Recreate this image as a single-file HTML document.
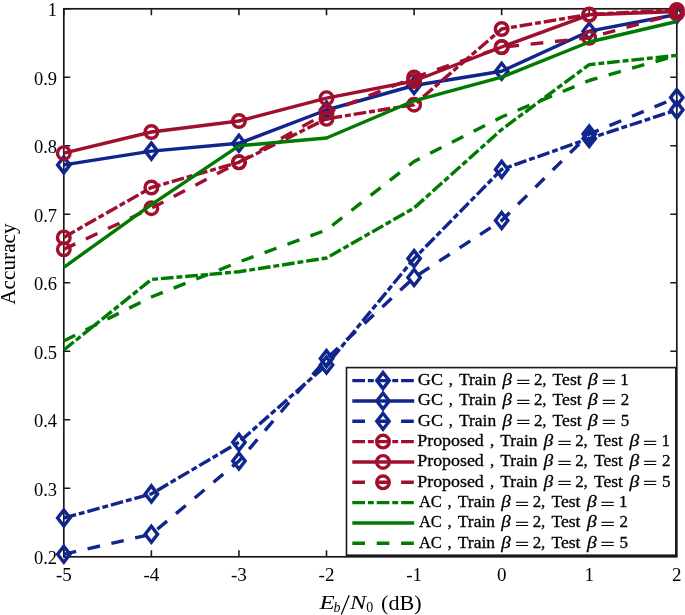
<!DOCTYPE html><html><head><meta charset="utf-8"><style>html,body{margin:0;padding:0;background:#fff;width:685px;height:615px;overflow:hidden}svg{display:block;will-change:transform}text{font-family:"Liberation Serif",serif;fill:#000}.lg{stroke:#000;stroke-width:0.3}</style></head><body>
<svg width="685" height="615" viewBox="0 0 685 615">
<path d="M63.80 8.80v6.5M63.80 556.80v-6.5M151.37 8.80v6.5M151.37 556.80v-6.5M238.94 8.80v6.5M238.94 556.80v-6.5M326.51 8.80v6.5M326.51 556.80v-6.5M414.09 8.80v6.5M501.66 8.80v6.5M589.23 8.80v6.5M676.80 8.80v6.5M63.80 556.80h6.5M63.80 488.30h6.5M63.80 419.80h6.5M63.80 351.30h6.5M676.80 351.30h-6.5M63.80 282.80h6.5M676.80 282.80h-6.5M63.80 214.30h6.5M676.80 214.30h-6.5M63.80 145.80h6.5M676.80 145.80h-6.5M63.80 77.30h6.5M676.80 77.30h-6.5M63.80 8.80h6.5M676.80 8.80h-6.5" stroke="#1a1a1a" stroke-width="1.6" fill="none"/>
<rect x="63.80" y="8.80" width="613.00" height="548.00" fill="none" stroke="#1a1a1a" stroke-width="1.7"/>
<polyline points="63.80,518.00 151.37,493.90 238.94,442.20 326.51,365.00 414.09,258.60 501.66,169.40 589.23,138.50 676.80,109.90" fill="none" stroke="#10268c" stroke-width="3.4" stroke-linejoin="round" stroke-dasharray="12.7 2.9 5.9 2.9"/>
<path d="M63.80 510.00L70.00 518.00L63.80 526.00L57.60 518.00Z" fill="none" stroke="#10268c" stroke-width="3.4" stroke-miterlimit="10"/>
<path d="M151.37 485.90L157.57 493.90L151.37 501.90L145.17 493.90Z" fill="none" stroke="#10268c" stroke-width="3.4" stroke-miterlimit="10"/>
<path d="M238.94 434.20L245.14 442.20L238.94 450.20L232.74 442.20Z" fill="none" stroke="#10268c" stroke-width="3.4" stroke-miterlimit="10"/>
<path d="M326.51 357.00L332.71 365.00L326.51 373.00L320.31 365.00Z" fill="none" stroke="#10268c" stroke-width="3.4" stroke-miterlimit="10"/>
<path d="M414.09 250.60L420.29 258.60L414.09 266.60L407.89 258.60Z" fill="none" stroke="#10268c" stroke-width="3.4" stroke-miterlimit="10"/>
<path d="M501.66 161.40L507.86 169.40L501.66 177.40L495.46 169.40Z" fill="none" stroke="#10268c" stroke-width="3.4" stroke-miterlimit="10"/>
<path d="M589.23 130.50L595.43 138.50L589.23 146.50L583.03 138.50Z" fill="none" stroke="#10268c" stroke-width="3.4" stroke-miterlimit="10"/>
<path d="M676.80 101.90L683.00 109.90L676.80 117.90L670.60 109.90Z" fill="none" stroke="#10268c" stroke-width="3.4" stroke-miterlimit="10"/>
<polyline points="63.80,164.90 151.37,151.10 238.94,143.30 326.51,110.00 414.09,85.50 501.66,71.20 589.23,31.20 676.80,14.50" fill="none" stroke="#10268c" stroke-width="3.4" stroke-linejoin="round"/>
<path d="M63.80 156.90L70.00 164.90L63.80 172.90L57.60 164.90Z" fill="none" stroke="#10268c" stroke-width="3.4" stroke-miterlimit="10"/>
<path d="M151.37 143.10L157.57 151.10L151.37 159.10L145.17 151.10Z" fill="none" stroke="#10268c" stroke-width="3.4" stroke-miterlimit="10"/>
<path d="M238.94 135.30L245.14 143.30L238.94 151.30L232.74 143.30Z" fill="none" stroke="#10268c" stroke-width="3.4" stroke-miterlimit="10"/>
<path d="M326.51 102.00L332.71 110.00L326.51 118.00L320.31 110.00Z" fill="none" stroke="#10268c" stroke-width="3.4" stroke-miterlimit="10"/>
<path d="M414.09 77.50L420.29 85.50L414.09 93.50L407.89 85.50Z" fill="none" stroke="#10268c" stroke-width="3.4" stroke-miterlimit="10"/>
<path d="M501.66 63.20L507.86 71.20L501.66 79.20L495.46 71.20Z" fill="none" stroke="#10268c" stroke-width="3.4" stroke-miterlimit="10"/>
<path d="M589.23 23.20L595.43 31.20L589.23 39.20L583.03 31.20Z" fill="none" stroke="#10268c" stroke-width="3.4" stroke-miterlimit="10"/>
<path d="M676.80 6.50L683.00 14.50L676.80 22.50L670.60 14.50Z" fill="none" stroke="#10268c" stroke-width="3.4" stroke-miterlimit="10"/>
<polyline points="63.80,554.30 151.37,534.20 238.94,461.00 326.51,358.60 414.09,277.50 501.66,220.50 589.23,134.00 676.80,97.60" fill="none" stroke="#10268c" stroke-width="3.4" stroke-linejoin="round" stroke-dasharray="12.7 11.7"/>
<path d="M63.80 546.30L70.00 554.30L63.80 562.30L57.60 554.30Z" fill="none" stroke="#10268c" stroke-width="3.4" stroke-miterlimit="10"/>
<path d="M151.37 526.20L157.57 534.20L151.37 542.20L145.17 534.20Z" fill="none" stroke="#10268c" stroke-width="3.4" stroke-miterlimit="10"/>
<path d="M238.94 453.00L245.14 461.00L238.94 469.00L232.74 461.00Z" fill="none" stroke="#10268c" stroke-width="3.4" stroke-miterlimit="10"/>
<path d="M326.51 350.60L332.71 358.60L326.51 366.60L320.31 358.60Z" fill="none" stroke="#10268c" stroke-width="3.4" stroke-miterlimit="10"/>
<path d="M414.09 269.50L420.29 277.50L414.09 285.50L407.89 277.50Z" fill="none" stroke="#10268c" stroke-width="3.4" stroke-miterlimit="10"/>
<path d="M501.66 212.50L507.86 220.50L501.66 228.50L495.46 220.50Z" fill="none" stroke="#10268c" stroke-width="3.4" stroke-miterlimit="10"/>
<path d="M589.23 126.00L595.43 134.00L589.23 142.00L583.03 134.00Z" fill="none" stroke="#10268c" stroke-width="3.4" stroke-miterlimit="10"/>
<path d="M676.80 89.60L683.00 97.60L676.80 105.60L670.60 97.60Z" fill="none" stroke="#10268c" stroke-width="3.4" stroke-miterlimit="10"/>
<polyline points="63.80,237.40 151.37,187.50 238.94,162.30 326.51,118.80 414.09,104.70 501.66,29.00 589.23,14.40 676.80,10.00" fill="none" stroke="#a00f2d" stroke-width="3.4" stroke-linejoin="round" stroke-dasharray="12.7 2.9 5.9 2.9"/>
<circle cx="63.80" cy="237.40" r="6.3" fill="none" stroke="#a00f2d" stroke-width="3.4"/>
<circle cx="151.37" cy="187.50" r="6.3" fill="none" stroke="#a00f2d" stroke-width="3.4"/>
<circle cx="238.94" cy="162.30" r="6.3" fill="none" stroke="#a00f2d" stroke-width="3.4"/>
<circle cx="326.51" cy="118.80" r="6.3" fill="none" stroke="#a00f2d" stroke-width="3.4"/>
<circle cx="414.09" cy="104.70" r="6.3" fill="none" stroke="#a00f2d" stroke-width="3.4"/>
<circle cx="501.66" cy="29.00" r="6.3" fill="none" stroke="#a00f2d" stroke-width="3.4"/>
<circle cx="589.23" cy="14.40" r="6.3" fill="none" stroke="#a00f2d" stroke-width="3.4"/>
<circle cx="676.80" cy="10.00" r="6.3" fill="none" stroke="#a00f2d" stroke-width="3.4"/>
<polyline points="63.80,153.20 151.37,132.00 238.94,121.00 326.51,98.20 414.09,81.00 501.66,47.00 589.23,14.80 676.80,11.50" fill="none" stroke="#a00f2d" stroke-width="3.4" stroke-linejoin="round"/>
<circle cx="63.80" cy="153.20" r="6.3" fill="none" stroke="#a00f2d" stroke-width="3.4"/>
<circle cx="151.37" cy="132.00" r="6.3" fill="none" stroke="#a00f2d" stroke-width="3.4"/>
<circle cx="238.94" cy="121.00" r="6.3" fill="none" stroke="#a00f2d" stroke-width="3.4"/>
<circle cx="326.51" cy="98.20" r="6.3" fill="none" stroke="#a00f2d" stroke-width="3.4"/>
<circle cx="414.09" cy="81.00" r="6.3" fill="none" stroke="#a00f2d" stroke-width="3.4"/>
<circle cx="501.66" cy="47.00" r="6.3" fill="none" stroke="#a00f2d" stroke-width="3.4"/>
<circle cx="589.23" cy="14.80" r="6.3" fill="none" stroke="#a00f2d" stroke-width="3.4"/>
<circle cx="676.80" cy="11.50" r="6.3" fill="none" stroke="#a00f2d" stroke-width="3.4"/>
<polyline points="63.80,249.30 151.37,208.20 238.94,162.30 326.51,113.00 414.09,77.50 501.66,47.30 589.23,37.80 676.80,13.50" fill="none" stroke="#a00f2d" stroke-width="3.4" stroke-linejoin="round" stroke-dasharray="12.7 11.7"/>
<circle cx="63.80" cy="249.30" r="6.3" fill="none" stroke="#a00f2d" stroke-width="3.4"/>
<circle cx="151.37" cy="208.20" r="6.3" fill="none" stroke="#a00f2d" stroke-width="3.4"/>
<circle cx="238.94" cy="162.30" r="6.3" fill="none" stroke="#a00f2d" stroke-width="3.4"/>
<circle cx="326.51" cy="113.00" r="6.3" fill="none" stroke="#a00f2d" stroke-width="3.4"/>
<circle cx="414.09" cy="77.50" r="6.3" fill="none" stroke="#a00f2d" stroke-width="3.4"/>
<circle cx="501.66" cy="47.30" r="6.3" fill="none" stroke="#a00f2d" stroke-width="3.4"/>
<circle cx="589.23" cy="37.80" r="6.3" fill="none" stroke="#a00f2d" stroke-width="3.4"/>
<circle cx="676.80" cy="13.50" r="6.3" fill="none" stroke="#a00f2d" stroke-width="3.4"/>
<polyline points="63.80,350.00 151.37,279.50 238.94,271.70 326.51,258.00 414.09,208.00 501.66,129.50 589.23,64.60 676.80,55.40" fill="none" stroke="#007a00" stroke-width="3.4" stroke-linejoin="round" stroke-dasharray="12.7 2.9 5.9 2.9"/>
<polyline points="63.80,267.30 151.37,204.70 238.94,145.80 326.51,138.00 414.09,100.80 501.66,77.20 589.23,42.00 676.80,21.50" fill="none" stroke="#007a00" stroke-width="3.4" stroke-linejoin="round"/>
<polyline points="63.80,341.00 151.37,297.00 238.94,262.00 326.51,230.00 414.09,161.50 501.66,117.00 589.23,80.50 676.80,55.40" fill="none" stroke="#007a00" stroke-width="3.4" stroke-linejoin="round" stroke-dasharray="12.7 11.7"/>
<text x="63.80" y="580.5" font-size="19" text-anchor="middle">-5</text>
<text x="151.37" y="580.5" font-size="19" text-anchor="middle">-4</text>
<text x="238.94" y="580.5" font-size="19" text-anchor="middle">-3</text>
<text x="326.51" y="580.5" font-size="19" text-anchor="middle">-2</text>
<text x="414.09" y="580.5" font-size="19" text-anchor="middle">-1</text>
<text x="501.66" y="580.5" font-size="19" text-anchor="middle">0</text>
<text x="589.23" y="580.5" font-size="19" text-anchor="middle">1</text>
<text x="676.80" y="580.5" font-size="19" text-anchor="middle">2</text>
<text x="57.0" y="564.10" font-size="18.5" text-anchor="end">0.2</text>
<text x="57.0" y="495.60" font-size="18.5" text-anchor="end">0.3</text>
<text x="57.0" y="427.10" font-size="18.5" text-anchor="end">0.4</text>
<text x="57.0" y="358.60" font-size="18.5" text-anchor="end">0.5</text>
<text x="57.0" y="290.10" font-size="18.5" text-anchor="end">0.6</text>
<text x="57.0" y="221.60" font-size="18.5" text-anchor="end">0.7</text>
<text x="57.0" y="153.10" font-size="18.5" text-anchor="end">0.8</text>
<text x="57.0" y="84.60" font-size="18.5" text-anchor="end">0.9</text>
<text x="57.0" y="16.10" font-size="18.5" text-anchor="end">1</text>
<text transform="translate(319.4,608.8) scale(1.31,1)" font-size="19" font-style="italic">E</text>
<text transform="translate(333.4,611.5)" font-size="14" font-style="italic">b</text>
<path d="M341.3 614.6L349.2 595.2" stroke="#000" stroke-width="1.25" fill="none"/>
<text transform="translate(350,608.8) scale(1.28,1)" font-size="19" font-style="italic">N</text>
<text transform="translate(366.2,611.9)" font-size="14">0</text>
<text transform="translate(381.1,609.7) scale(1.167,1.05)" font-size="19">(dB)</text>
<text transform="translate(15,304.8) rotate(-90)" x="0" y="0" font-size="21" textLength="81.5" lengthAdjust="spacingAndGlyphs">Accuracy</text>
<rect x="346.5" y="367.6" width="329.30" height="187.60" fill="none" stroke="#1a1a1a" stroke-width="1.6"/>
<line x1="352.3" y1="380.60" x2="414.2" y2="380.60" fill="none" stroke="#10268c" stroke-width="3.4" stroke-linejoin="round" stroke-dasharray="12.7 2.9 5.9 2.9"/>
<path d="M383.00 372.60L389.20 380.60L383.00 388.60L376.80 380.60Z" fill="none" stroke="#10268c" stroke-width="3.4" stroke-miterlimit="10"/>
<text transform="translate(417.84,385.00) scale(1.064,1.0)" font-size="17" class="lg">GC</text>
<text transform="translate(448.70,385.00) scale(1.000,1.0)" font-size="17" class="lg">,</text>
<text transform="translate(459.00,385.00) scale(1.028,1.0)" font-size="17" class="lg">Train</text>
<text transform="translate(502.50,385.00) scale(1.111,1.0)" font-size="17" font-style="italic" class="lg">β</text>
<text transform="translate(516.33,387.50) scale(1.475,1.0)" font-size="17" class="lg">=</text>
<text transform="translate(533.90,385.00) scale(1.000,1.0)" font-size="17" class="lg">2</text>
<text transform="translate(542.20,385.00) scale(1.000,1.0)" font-size="17" class="lg">,</text>
<text transform="translate(552.60,385.00) scale(1.036,1.0)" font-size="17" class="lg">Test</text>
<text transform="translate(588.10,385.00) scale(1.144,1.0)" font-size="17" font-style="italic" class="lg">β</text>
<text transform="translate(601.71,387.50) scale(1.488,1.0)" font-size="17" class="lg">=</text>
<text transform="translate(620.30,385.00) scale(1.000,1.0)" font-size="17" class="lg">1</text>
<line x1="352.3" y1="400.94" x2="414.2" y2="400.94" fill="none" stroke="#10268c" stroke-width="3.4" stroke-linejoin="round"/>
<path d="M383.00 392.94L389.20 400.94L383.00 408.94L376.80 400.94Z" fill="none" stroke="#10268c" stroke-width="3.4" stroke-miterlimit="10"/>
<text transform="translate(417.84,405.34) scale(1.064,1.0)" font-size="17" class="lg">GC</text>
<text transform="translate(448.70,405.34) scale(1.000,1.0)" font-size="17" class="lg">,</text>
<text transform="translate(459.00,405.34) scale(1.028,1.0)" font-size="17" class="lg">Train</text>
<text transform="translate(502.50,405.34) scale(1.111,1.0)" font-size="17" font-style="italic" class="lg">β</text>
<text transform="translate(516.33,407.84) scale(1.475,1.0)" font-size="17" class="lg">=</text>
<text transform="translate(533.90,405.34) scale(1.000,1.0)" font-size="17" class="lg">2</text>
<text transform="translate(542.20,405.34) scale(1.000,1.0)" font-size="17" class="lg">,</text>
<text transform="translate(552.60,405.34) scale(1.036,1.0)" font-size="17" class="lg">Test</text>
<text transform="translate(588.10,405.34) scale(1.144,1.0)" font-size="17" font-style="italic" class="lg">β</text>
<text transform="translate(601.71,407.84) scale(1.488,1.0)" font-size="17" class="lg">=</text>
<text transform="translate(620.70,405.34) scale(1.000,1.0)" font-size="17" class="lg">2</text>
<line x1="352.3" y1="421.28" x2="414.2" y2="421.28" fill="none" stroke="#10268c" stroke-width="3.4" stroke-linejoin="round" stroke-dasharray="12.7 11.7"/>
<path d="M383.00 413.28L389.20 421.28L383.00 429.28L376.80 421.28Z" fill="none" stroke="#10268c" stroke-width="3.4" stroke-miterlimit="10"/>
<text transform="translate(417.84,425.68) scale(1.064,1.0)" font-size="17" class="lg">GC</text>
<text transform="translate(448.70,425.68) scale(1.000,1.0)" font-size="17" class="lg">,</text>
<text transform="translate(459.00,425.68) scale(1.028,1.0)" font-size="17" class="lg">Train</text>
<text transform="translate(502.50,425.68) scale(1.111,1.0)" font-size="17" font-style="italic" class="lg">β</text>
<text transform="translate(516.33,428.18) scale(1.475,1.0)" font-size="17" class="lg">=</text>
<text transform="translate(533.90,425.68) scale(1.000,1.0)" font-size="17" class="lg">2</text>
<text transform="translate(542.20,425.68) scale(1.000,1.0)" font-size="17" class="lg">,</text>
<text transform="translate(552.60,425.68) scale(1.036,1.0)" font-size="17" class="lg">Test</text>
<text transform="translate(588.10,425.68) scale(1.144,1.0)" font-size="17" font-style="italic" class="lg">β</text>
<text transform="translate(601.71,428.18) scale(1.488,1.0)" font-size="17" class="lg">=</text>
<text transform="translate(620.70,425.68) scale(1.000,1.0)" font-size="17" class="lg">5</text>
<line x1="352.3" y1="441.62" x2="414.2" y2="441.62" fill="none" stroke="#a00f2d" stroke-width="3.4" stroke-linejoin="round" stroke-dasharray="12.7 2.9 5.9 2.9"/>
<circle cx="383.00" cy="441.62" r="6.3" fill="none" stroke="#a00f2d" stroke-width="3.4"/>
<text transform="translate(417.25,446.02) scale(1.053,1.0)" font-size="17" class="lg">Proposed</text>
<text transform="translate(490.00,446.02) scale(1.000,1.0)" font-size="17" class="lg">,</text>
<text transform="translate(500.30,446.02) scale(1.028,1.0)" font-size="17" class="lg">Train</text>
<text transform="translate(543.80,446.02) scale(1.111,1.0)" font-size="17" font-style="italic" class="lg">β</text>
<text transform="translate(557.62,448.52) scale(1.475,1.0)" font-size="17" class="lg">=</text>
<text transform="translate(575.20,446.02) scale(1.000,1.0)" font-size="17" class="lg">2</text>
<text transform="translate(583.50,446.02) scale(1.000,1.0)" font-size="17" class="lg">,</text>
<text transform="translate(593.90,446.02) scale(1.036,1.0)" font-size="17" class="lg">Test</text>
<text transform="translate(629.40,446.02) scale(1.144,1.0)" font-size="17" font-style="italic" class="lg">β</text>
<text transform="translate(643.01,448.52) scale(1.488,1.0)" font-size="17" class="lg">=</text>
<text transform="translate(661.60,446.02) scale(1.000,1.0)" font-size="17" class="lg">1</text>
<line x1="352.3" y1="461.96" x2="414.2" y2="461.96" fill="none" stroke="#a00f2d" stroke-width="3.4" stroke-linejoin="round"/>
<circle cx="383.00" cy="461.96" r="6.3" fill="none" stroke="#a00f2d" stroke-width="3.4"/>
<text transform="translate(417.25,466.36) scale(1.053,1.0)" font-size="17" class="lg">Proposed</text>
<text transform="translate(490.00,466.36) scale(1.000,1.0)" font-size="17" class="lg">,</text>
<text transform="translate(500.30,466.36) scale(1.028,1.0)" font-size="17" class="lg">Train</text>
<text transform="translate(543.80,466.36) scale(1.111,1.0)" font-size="17" font-style="italic" class="lg">β</text>
<text transform="translate(557.62,468.86) scale(1.475,1.0)" font-size="17" class="lg">=</text>
<text transform="translate(575.20,466.36) scale(1.000,1.0)" font-size="17" class="lg">2</text>
<text transform="translate(583.50,466.36) scale(1.000,1.0)" font-size="17" class="lg">,</text>
<text transform="translate(593.90,466.36) scale(1.036,1.0)" font-size="17" class="lg">Test</text>
<text transform="translate(629.40,466.36) scale(1.144,1.0)" font-size="17" font-style="italic" class="lg">β</text>
<text transform="translate(643.01,468.86) scale(1.488,1.0)" font-size="17" class="lg">=</text>
<text transform="translate(662.00,466.36) scale(1.000,1.0)" font-size="17" class="lg">2</text>
<line x1="352.3" y1="482.30" x2="414.2" y2="482.30" fill="none" stroke="#a00f2d" stroke-width="3.4" stroke-linejoin="round" stroke-dasharray="12.7 11.7"/>
<circle cx="383.00" cy="482.30" r="6.3" fill="none" stroke="#a00f2d" stroke-width="3.4"/>
<text transform="translate(417.25,486.70) scale(1.053,1.0)" font-size="17" class="lg">Proposed</text>
<text transform="translate(490.00,486.70) scale(1.000,1.0)" font-size="17" class="lg">,</text>
<text transform="translate(500.30,486.70) scale(1.028,1.0)" font-size="17" class="lg">Train</text>
<text transform="translate(543.80,486.70) scale(1.111,1.0)" font-size="17" font-style="italic" class="lg">β</text>
<text transform="translate(557.62,489.20) scale(1.475,1.0)" font-size="17" class="lg">=</text>
<text transform="translate(575.20,486.70) scale(1.000,1.0)" font-size="17" class="lg">2</text>
<text transform="translate(583.50,486.70) scale(1.000,1.0)" font-size="17" class="lg">,</text>
<text transform="translate(593.90,486.70) scale(1.036,1.0)" font-size="17" class="lg">Test</text>
<text transform="translate(629.40,486.70) scale(1.144,1.0)" font-size="17" font-style="italic" class="lg">β</text>
<text transform="translate(643.01,489.20) scale(1.488,1.0)" font-size="17" class="lg">=</text>
<text transform="translate(662.00,486.70) scale(1.000,1.0)" font-size="17" class="lg">5</text>
<line x1="352.3" y1="502.64" x2="414.2" y2="502.64" fill="none" stroke="#007a00" stroke-width="3.4" stroke-linejoin="round" stroke-dasharray="12.7 2.9 5.9 2.9"/>
<text transform="translate(418.90,507.04) scale(0.974,1.0)" font-size="17" class="lg">AC</text>
<text transform="translate(447.50,507.04) scale(1.000,1.0)" font-size="17" class="lg">,</text>
<text transform="translate(457.80,507.04) scale(1.028,1.0)" font-size="17" class="lg">Train</text>
<text transform="translate(501.30,507.04) scale(1.111,1.0)" font-size="17" font-style="italic" class="lg">β</text>
<text transform="translate(515.12,509.54) scale(1.475,1.0)" font-size="17" class="lg">=</text>
<text transform="translate(532.70,507.04) scale(1.000,1.0)" font-size="17" class="lg">2</text>
<text transform="translate(541.00,507.04) scale(1.000,1.0)" font-size="17" class="lg">,</text>
<text transform="translate(551.40,507.04) scale(1.036,1.0)" font-size="17" class="lg">Test</text>
<text transform="translate(586.90,507.04) scale(1.144,1.0)" font-size="17" font-style="italic" class="lg">β</text>
<text transform="translate(600.51,509.54) scale(1.488,1.0)" font-size="17" class="lg">=</text>
<text transform="translate(619.10,507.04) scale(1.000,1.0)" font-size="17" class="lg">1</text>
<line x1="352.3" y1="522.98" x2="414.2" y2="522.98" fill="none" stroke="#007a00" stroke-width="3.4" stroke-linejoin="round"/>
<text transform="translate(418.90,527.38) scale(0.974,1.0)" font-size="17" class="lg">AC</text>
<text transform="translate(447.50,527.38) scale(1.000,1.0)" font-size="17" class="lg">,</text>
<text transform="translate(457.80,527.38) scale(1.028,1.0)" font-size="17" class="lg">Train</text>
<text transform="translate(501.30,527.38) scale(1.111,1.0)" font-size="17" font-style="italic" class="lg">β</text>
<text transform="translate(515.12,529.88) scale(1.475,1.0)" font-size="17" class="lg">=</text>
<text transform="translate(532.70,527.38) scale(1.000,1.0)" font-size="17" class="lg">2</text>
<text transform="translate(541.00,527.38) scale(1.000,1.0)" font-size="17" class="lg">,</text>
<text transform="translate(551.40,527.38) scale(1.036,1.0)" font-size="17" class="lg">Test</text>
<text transform="translate(586.90,527.38) scale(1.144,1.0)" font-size="17" font-style="italic" class="lg">β</text>
<text transform="translate(600.51,529.88) scale(1.488,1.0)" font-size="17" class="lg">=</text>
<text transform="translate(619.50,527.38) scale(1.000,1.0)" font-size="17" class="lg">2</text>
<line x1="352.3" y1="543.32" x2="414.2" y2="543.32" fill="none" stroke="#007a00" stroke-width="3.4" stroke-linejoin="round" stroke-dasharray="12.7 11.7"/>
<text transform="translate(418.90,547.72) scale(0.974,1.0)" font-size="17" class="lg">AC</text>
<text transform="translate(447.50,547.72) scale(1.000,1.0)" font-size="17" class="lg">,</text>
<text transform="translate(457.80,547.72) scale(1.028,1.0)" font-size="17" class="lg">Train</text>
<text transform="translate(501.30,547.72) scale(1.111,1.0)" font-size="17" font-style="italic" class="lg">β</text>
<text transform="translate(515.12,550.22) scale(1.475,1.0)" font-size="17" class="lg">=</text>
<text transform="translate(532.70,547.72) scale(1.000,1.0)" font-size="17" class="lg">2</text>
<text transform="translate(541.00,547.72) scale(1.000,1.0)" font-size="17" class="lg">,</text>
<text transform="translate(551.40,547.72) scale(1.036,1.0)" font-size="17" class="lg">Test</text>
<text transform="translate(586.90,547.72) scale(1.144,1.0)" font-size="17" font-style="italic" class="lg">β</text>
<text transform="translate(600.51,550.22) scale(1.488,1.0)" font-size="17" class="lg">=</text>
<text transform="translate(619.50,547.72) scale(1.000,1.0)" font-size="17" class="lg">5</text>
</svg></body></html>
